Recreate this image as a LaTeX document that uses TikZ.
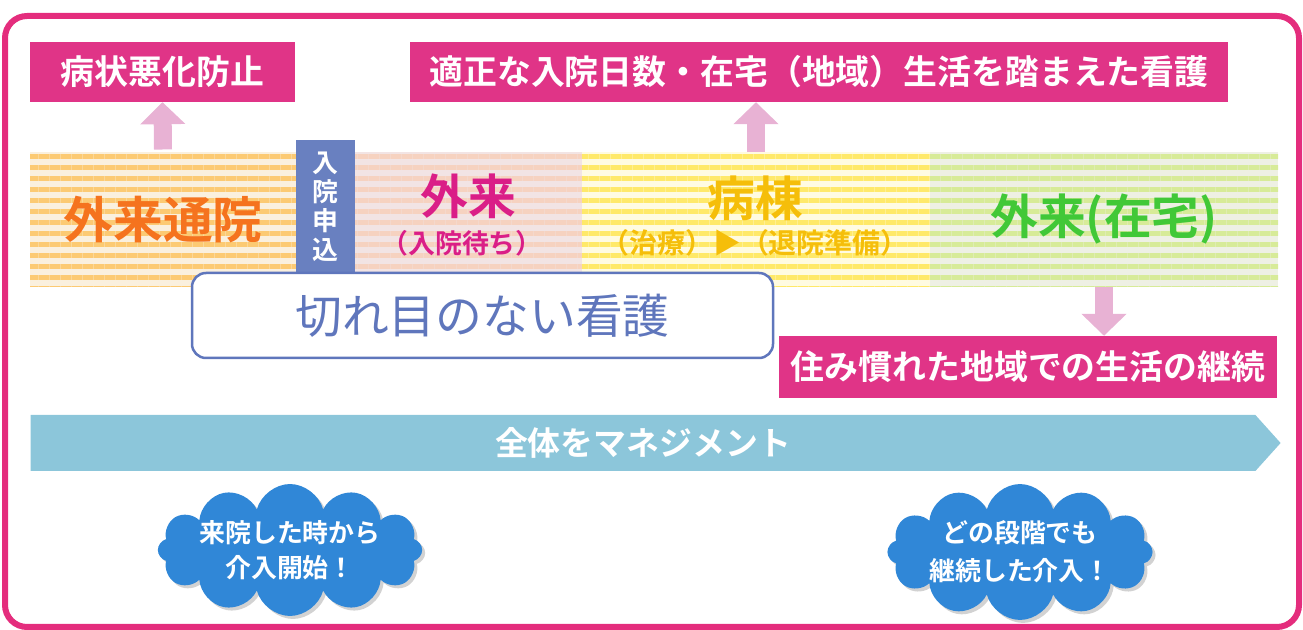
\documentclass[tikz,border=0pt]{standalone}
\usepackage{fontspec}
\setmainfont{Noto Sans CJK JP}[BoldFont={Noto Sans CJK JP Bold}]
\usetikzlibrary{arrows.meta,patterns.meta,shapes.symbols,shadows}
\definecolor{framepink}{RGB}{228,45,125}
\definecolor{goalpink}{RGB}{224,52,135}
\definecolor{arrowpink}{RGB}{232,178,212}
\definecolor{visitbase}{RGB}{250,240,222}
\definecolor{visitline}{RGB}{252,202,115}
\definecolor{visittext}{RGB}{245,115,30}
\definecolor{applyblue}{RGB}{105,128,192}
\definecolor{waitbase}{RGB}{242,228,228}
\definecolor{waitline}{RGB}{246,210,192}
\definecolor{waittext}{RGB}{218,30,135}
\definecolor{wardbase}{RGB}{255,251,225}
\definecolor{wardline}{RGB}{255,233,105}
\definecolor{wardtext}{RGB}{245,190,10}
\definecolor{homebase}{RGB}{238,240,228}
\definecolor{homeline}{RGB}{215,235,152}
\definecolor{hometext}{RGB}{65,200,55}
\definecolor{seamblue}{RGB}{95,118,188}
\definecolor{managecyan}{RGB}{140,198,218}
\definecolor{cloudblue}{RGB}{48,135,215}
\begin{document}
\begin{tikzpicture}[>=latex,line join=bevel,
  goalbox/.style={fill=goalpink,text=white,inner sep=0pt,font=\bfseries\fontsize{34}{38}\selectfont},
  band/.style={minimum height=135bp,inner sep=0pt,pattern={Lines[angle=0,distance=11bp,line width=5bp]}},
  liftarrow/.style={line width=18bp,draw=arrowpink,-{Triangle[width=44bp,length=22bp]}},
  bubble/.style={cloud,cloud puffs=12,cloud ignores aspect,fill=cloudblue,text=white,align=center,inner sep=0pt,
    drop shadow={fill=black!35,shadow xshift=3bp,shadow yshift=-3bp}},
  ]
%%
\useasboundingbox (0bp,0bp) rectangle (1303bp,630bp);
\draw [framepink,line width=6bp,rounded corners=22bp] (5bp,3bp) rectangle (1299bp,614bp);
%
\node (box_prevent) at (162.5bp,558bp) [goalbox,minimum width=265bp,minimum height=60bp] {病状悪化防止};
  \node (box_stay) at (819bp,558bp) [goalbox,minimum width=818bp,minimum height=60bp] {適正な入院日数・在宅（地域）生活を踏まえた看護};
  \node (band_visit) at (163bp,410.5bp) [band,minimum width=266bp,preaction={fill=visitbase},pattern color=visitline,text=visittext,font=\bfseries\fontsize{50}{54}\selectfont] {外来通院};
  \node (band_wait) at (468.5bp,410.5bp) [band,minimum width=227bp,preaction={fill=waitbase},pattern color=waitline] {};
  \node (band_ward) at (756bp,410.5bp) [band,minimum width=348bp,preaction={fill=wardbase},pattern color=wardline] {};
  \node (band_home) at (1104bp,410.5bp) [band,minimum width=348bp,preaction={fill=homebase},pattern color=homeline,text=hometext,font=\bfseries\fontsize{48}{52}\selectfont] {外来(在宅)};
  \node (text_wait) at (468bp,434bp) [text=waittext,font=\bfseries\fontsize{48}{52}\selectfont] {外来};
  \node (text_waitsub) at (462bp,387bp) [text=waittext,font=\bfseries\fontsize{27}{30}\selectfont] {（入院待ち）};
  \node (text_ward) at (755bp,432bp) [text=wardtext,font=\bfseries\fontsize{48}{52}\selectfont] {病棟};
  \node (text_wardsub) at (755bp,387bp) [text=wardtext,font=\bfseries\fontsize{28}{30}\selectfont] {（治療）▶（退院準備）};
  \node (box_apply) at (325.5bp,423.5bp) [fill=applyblue,minimum width=59bp,minimum height=133bp,inner sep=0pt,text=white,align=center,font=\bfseries\fontsize{26}{29}\selectfont] {入\\院\\申\\込};
  \node (box_seamless) at (482.5bp,314.5bp) [draw=seamblue,line width=2.5bp,fill=white,rounded corners=14bp,minimum width=581bp,minimum height=85bp,text=seamblue,font=\fontsize{47}{50}\selectfont] {切れ目のない看護};
  \node (box_life) at (1028bp,263bp) [goalbox,minimum width=498bp,minimum height=62bp] {住み慣れた地域での生活の継続};
  \node (bar_manage) at (643bp,187bp) [signal,signal to=east,signal pointer angle=96,fill=managecyan,minimum width=1250bp,minimum height=56bp,inner sep=0pt,text=white,font=\bfseries\fontsize{33}{36}\selectfont] {全体をマネジメント};
  \node (cloud_start) at (290bp,80bp) [bubble,minimum width=225bp,minimum height=88bp,font=\bfseries\fontsize{26}{35}\selectfont] {来院した時から\\介入開始！};
  \node (cloud_keep) at (1020bp,78bp) [bubble,minimum width=225bp,minimum height=92bp,font=\bfseries\fontsize{26}{38}\selectfont] {どの段階でも\\継続した介入！};
  \draw [liftarrow] (band_visit.north) -- (box_prevent.south);
  \draw [liftarrow] (band_ward.north) -- (band_ward.north |- box_stay.south);
  \draw [liftarrow] (band_home.south) -- (band_home.south |- box_life.north);
%
\end{tikzpicture}
\end{document}
